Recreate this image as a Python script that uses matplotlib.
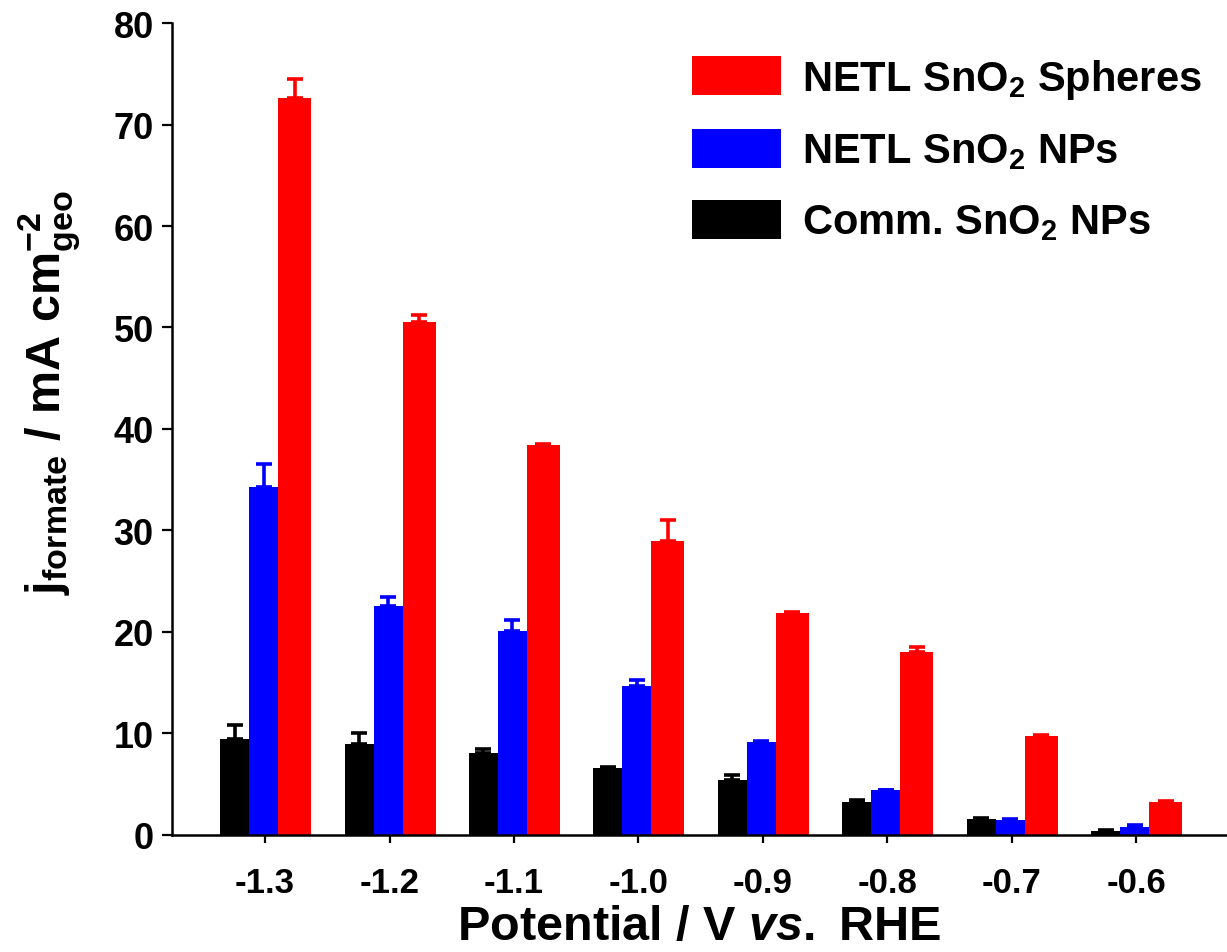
import numpy as np
import matplotlib
matplotlib.use("Agg")
import matplotlib.pyplot as plt
from matplotlib.patches import Patch

plt.rcParams['font.family'] = ['Liberation Sans', 'DejaVu Sans']
plt.rcParams['font.weight'] = 'bold'
plt.rcParams['axes.labelweight'] = 'bold'
plt.rcParams['mathtext.fontset'] = 'custom'
plt.rcParams['mathtext.rm'] = 'Liberation Sans:bold'
plt.rcParams['mathtext.bf'] = 'Liberation Sans:bold'
plt.rcParams['mathtext.it'] = 'Liberation Sans:bold:italic'

# potencijali (V vs. RHE)
potencijali = ['-1.3', '-1.2', '-1.1', '-1.0', '-0.9', '-0.8', '-0.7', '-0.6']

# gustina struje za formijat, mA/cm2
comm_np = [9.5, 9.0, 8.1, 6.6, 5.4, 3.2, 1.6, 0.4]
comm_np_err = [1.3, 1.0, 0.4, 0.1, 0.5, 0.2, 0.05, 0.05]
netl_np = [34.3, 22.6, 20.1, 14.7, 9.2, 4.4, 1.5, 0.8]
netl_np_err = [2.3, 0.8, 1.1, 0.6, 0.05, 0.05, 0.1, 0.2]
netl_sfere = [72.6, 50.5, 38.4, 29.0, 21.9, 18.0, 9.8, 3.2]
netl_sfere_err = [1.9, 0.7, 0.1, 2.0, 0.1, 0.5, 0.05, 0.1]

x = np.arange(len(potencijali))

fig = plt.figure(figsize=(12.27, 9.53), dpi=100)
ax = fig.add_axes([0.140, 0.1228, 0.860, 0.852])

serije = [
    (comm_np, comm_np_err, 'black', -0.245, 0.233),
    (netl_np, netl_np_err, '#0000ff', -0.012, 0.233),
    (netl_sfere, netl_sfere_err, '#ff0000', 0.237, 0.265),
]
for vrednosti, greske, boja, pomeraj, sirina in serije:
    ax.bar(x + pomeraj, vrednosti, width=sirina, color=boja, zorder=2)
    # samo gornja greska, kao u Originu
    ax.errorbar(x + pomeraj, vrednosti, yerr=[np.zeros(len(greske)), greske],
                fmt='none', ecolor=boja, elinewidth=2.6, capsize=5.5, capthick=2.6, zorder=3)

ax.set_xlim(-0.75, 7.73)
ax.set_ylim(0, 80)
ax.set_yticks(np.arange(0, 81, 10))
ax.set_xticks(x)
ax.set_xticklabels(potencijali)

for s in ['top', 'right']:
    ax.spines[s].set_visible(False)
for s in ['left', 'bottom']:
    ax.spines[s].set_linewidth(1.8)
ax.tick_params(axis='y', direction='out', length=7, width=1.6, labelsize=26, pad=6)
ax.tick_params(axis='x', direction='out', length=6, width=1.6, labelsize=25, pad=16)

ax.set_xlabel(r'Potential / V $\mathit{vs.}$ RHE', fontsize=35, fontweight='bold', labelpad=4)
ax.set_ylabel(r'$\mathrm{j_{formate}}$ / mA cm$^{-2}_{\mathrm{geo}}$', fontsize=35,
              fontweight='bold')
ax.yaxis.set_label_coords(-0.085, 0.546)

rucke = [
    Patch(facecolor='#ff0000', label=r'NETL SnO$_2$ Spheres'),
    Patch(facecolor='#0000ff', label=r'NETL SnO$_2$ NPs'),
    Patch(facecolor='black', label=r'Comm. SnO$_2$ NPs'),
]
ax.legend(handles=rucke, loc='upper right', bbox_to_anchor=(1.0, 0.99), frameon=False,
          fontsize=30, handlelength=2.15, handleheight=1.05, labelspacing=0.68,
          handletextpad=0.5, borderaxespad=0.2)

fig.savefig('out.png', dpi=100)
